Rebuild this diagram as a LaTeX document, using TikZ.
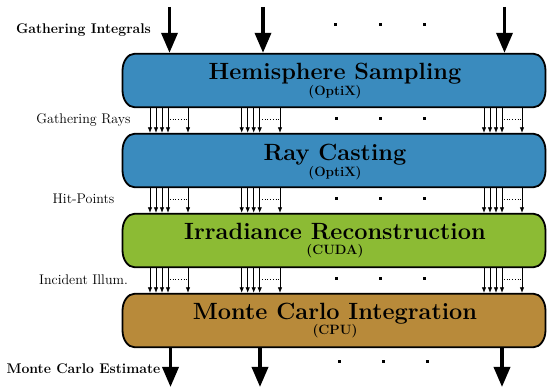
\documentclass[tikz,border=0pt]{standalone}
\usetikzlibrary{arrows.meta}
\definecolor{boxblue}{RGB}{58,139,190}
\definecolor{boxgreen}{RGB}{140,187,52}
\definecolor{boxbrown}{RGB}{184,138,58}
\begin{document}
\begin{tikzpicture}[x=1pt,y=-1pt,
  stagebox/.style={minimum width=423pt, minimum height=53.5pt, inner sep=0pt, outer sep=0pt},
  stageline/.style={draw=black, line width=1.8pt},
  titletext/.style={anchor=base, inner sep=0pt, font=\fontsize{23.5}{26}\selectfont\bfseries},
  subtext/.style={anchor=base, inner sep=0pt, font=\fontsize{13.5}{15}\selectfont\bfseries},
  sidelabel/.style={anchor=base, inner sep=0pt, font=\fontsize{14}{16}\selectfont},
  sideboldlabel/.style={anchor=base, inner sep=0pt, font=\fontsize{14}{16}\selectfont\bfseries},
  bigarrow/.style={line width=3.5pt, -{Triangle[width=16pt,length=20pt]}},
  smallarrow/.style={line width=0.8pt, -{Latex[length=5.5pt,width=4.5pt]}},
  dotline/.style={line width=0.7pt, dotted},
  sqdot/.style={fill=black, minimum size=3pt, inner sep=0pt}
]
\useasboundingbox (0,0) rectangle (547,387);

% boxes (nodes) and their outlines with elliptical ends
\foreach \nm/\col/\yc in {hs/boxblue/80.5, rc/boxblue/160.5, ir/boxgreen/240.5, mc/boxbrown/320.5}{
  \node[stagebox] (\nm) at (334,\yc) {};
  \filldraw[stageline, fill=\col]
    ([xshift=12pt]\nm.north west) -- ([xshift=-12pt]\nm.north east)
    .. controls ([xshift=-5.4pt]\nm.north east) and ([yshift=-7.6pt]\nm.north east) .. ([yshift=-17pt]\nm.north east)
    -- ([yshift=17pt]\nm.south east)
    .. controls ([yshift=7.6pt]\nm.south east) and ([xshift=-5.4pt]\nm.south east) .. ([xshift=-12pt]\nm.south east)
    -- ([xshift=12pt]\nm.south west)
    .. controls ([xshift=5.4pt]\nm.south west) and ([yshift=7.6pt]\nm.south west) .. ([yshift=17pt]\nm.south west)
    -- ([yshift=-17pt]\nm.north west)
    .. controls ([yshift=-7.6pt]\nm.north west) and ([xshift=5.4pt]\nm.north west) .. ([xshift=12pt]\nm.north west)
    -- cycle;
}

% box texts
\node[titletext] (hst) at (335,80) {Hemisphere Sampling};
\node[subtext]   (hss) at (335,96) {(OptiX)};
\node[titletext] (rct) at (335,161) {Ray Casting};
\node[subtext]   (rcs) at (335,177) {(OptiX)};
\node[titletext] (irt) at (335,240) {Irradiance Reconstruction};
\node[subtext]   (irs) at (335,255) {(CUDA)};
\node[titletext] (mct) at (335,320) {Monte Carlo Integration};
\node[subtext]   (mcs) at (335,335) {(CPU)};

% side labels
\node[sideboldlabel] (l0) at (83.5,33.3) {Gathering Integrals};
\node[sidelabel] (l1) at (83.5,124) {Gathering Rays};
\node[sidelabel] (l2) at (83.5,204) {Hit-Points};
\node[sidelabel] (l3) at (83.5,284.5) {Incident Illum.};
\node[sideboldlabel] (l4) at (83.5,374) {Monte Carlo Estimate};

% big input arrows
\coordinate (in1) at (169.5,7);
\coordinate (in2) at (263,7);
\coordinate (in3) at (504.5,7);
\draw[bigarrow] (in1) -- ([yshift=0.9pt]in1 |- hs.north);
\draw[bigarrow] (in2) -- ([yshift=0.9pt]in2 |- hs.north);
\draw[bigarrow] (in3) -- ([yshift=0.9pt]in3 |- hs.north);

% big output arrows
\coordinate (out1) at (170.5,387);
\coordinate (out2) at (260,387);
\coordinate (out3) at (502,387);
\draw[bigarrow] (out1 |- mc.south) -- (out1);
\draw[bigarrow] (out2 |- mc.south) -- (out2);
\draw[bigarrow] (out3 |- mc.south) -- (out3);

% small arrows between boxes
\foreach \up/\dn/\ym in {hs/rc/120.5, rc/ir/200.5, ir/mc/280.5}{
  \foreach \x in {150,156,162,168,188,241.7,247.7,253.7,259.7,280,484,490,496,502,522}{
    \draw[smallarrow] ([yshift=-0.9pt]\x,0 |- \up.south) -- ([yshift=0.9pt]\x,0 |- \dn.north);
  }
  \draw[dotline] (170,\ym-1.5) -- (186.5,\ym-1.5);
  \draw[dotline] (262,\ym-1.5) -- (278.5,\ym-1.5);
  \draw[dotline] (504,\ym-1.5) -- (520.5,\ym-1.5);
  \foreach \dx in {336,380,424}{
    \node[sqdot] at (\dx,\ym-1.5) {};
  }
}

% dots top and bottom
\foreach \dx in {335,380,424}{
  \node[sqdot] at (\dx,25) {};
}
\foreach \dx in {339,383,427}{
  \node[sqdot] at (\dx,362) {};
}
\end{tikzpicture}
\end{document}
